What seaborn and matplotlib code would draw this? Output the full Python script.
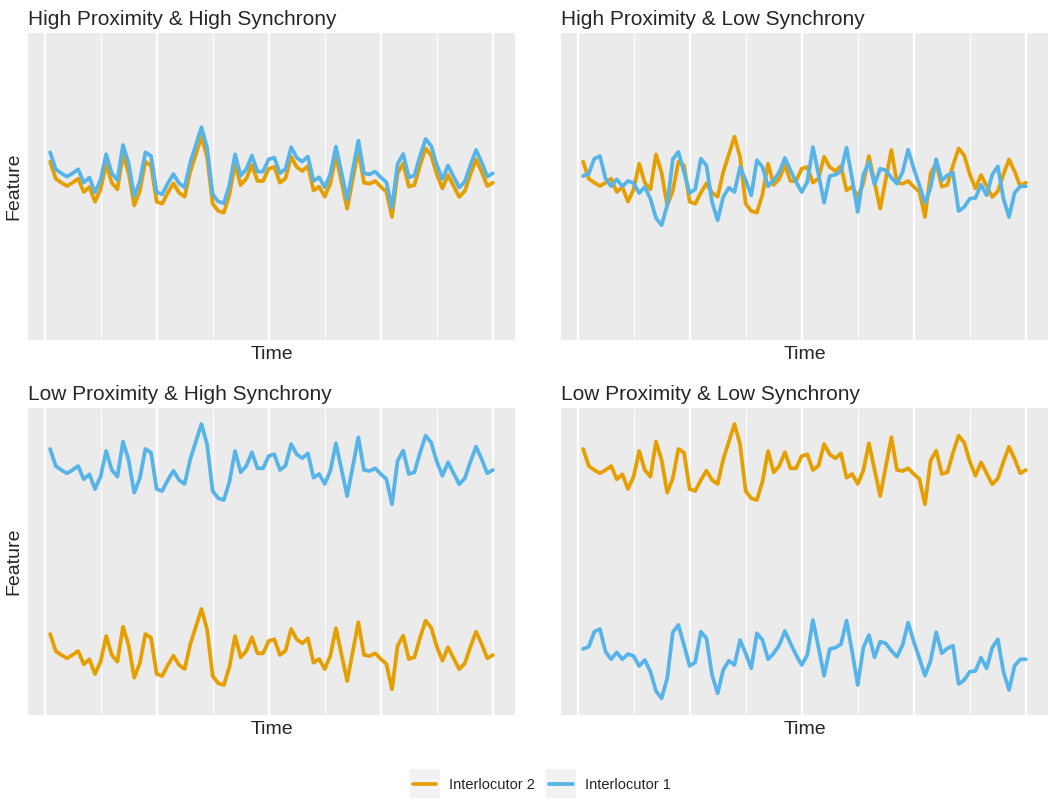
import pandas as pd
import matplotlib
matplotlib.use("Agg")
import matplotlib.pyplot as plt
from matplotlib.ticker import MultipleLocator
from matplotlib.lines import Line2D
from matplotlib.patches import Patch, Rectangle
from matplotlib.legend_handler import HandlerTuple, HandlerPatch
import seaborn as sns

# Time steps
time = list(range(1, 81))

# Base signal of the synchronous speaker
pattern_a = [6.10, 4.40, 4.00, 3.67, 4.00, 4.40, 3.07, 3.57, 2.10, 3.33,
             5.90, 4.00, 3.33, 6.83, 5.00, 1.73, 3.17, 6.10, 5.73, 2.10,
             1.90, 3.00, 3.93, 3.00, 2.60, 5.07, 6.83, 8.60, 6.57, 1.90,
             1.17, 1.00, 2.83, 5.90, 3.77, 4.40, 5.77, 4.17, 4.17, 5.40,
             5.57, 4.00, 4.43, 6.60, 5.57, 5.17, 5.67, 3.23, 3.60, 2.60,
             3.93, 6.67, 4.03, 1.40, 4.33, 7.27, 4.00, 3.90, 4.17, 3.60,
             3.10, 0.57, 4.93, 5.93, 3.60, 3.77, 5.73, 7.43, 6.73, 4.83,
             3.43, 4.77, 3.67, 2.57, 3.17, 4.83, 6.33, 5.10, 3.67, 4.00]

# Signal of the non-synchronous speaker
pattern_c = [6.10, 6.33, 7.83, 8.10, 5.83, 5.07, 5.77, 5.07, 5.60, 5.40,
             4.40, 5.00, 3.83, 1.90, 1.17, 3.17, 7.77, 8.50, 6.50, 4.40,
             4.77, 7.83, 7.17, 3.50, 1.67, 4.00, 4.93, 4.50, 7.00, 5.67,
             4.17, 7.67, 7.00, 5.07, 5.67, 6.50, 7.90, 6.67, 5.50, 4.50,
             5.50, 9.00, 6.27, 3.43, 6.10, 6.23, 6.57, 8.93, 5.83, 2.50,
             6.23, 7.50, 5.27, 6.83, 6.67, 5.93, 5.33, 6.50, 8.73, 6.83,
             5.17, 3.43, 4.93, 7.77, 5.67, 6.17, 6.43, 2.60, 3.00, 3.83,
             3.90, 5.23, 4.17, 6.23, 7.07, 3.83, 2.00, 4.43, 5.07, 5.07]

titles = ["High Proximity & High Synchrony", "High Proximity & Low Synchrony",
          "Low Proximity & High Synchrony", "Low Proximity & Low Synchrony"]

# level of each speaker in each panel
level_i2 = [11.73, 11.73, 2.0, 20.5]
level_i1 = [12.67, 10.3, 20.5, 0.5]
synchrony = ["high", "low", "high", "low"]

speakers = ["Interlocutor 2", "Interlocutor 1"]
palette = {"Interlocutor 2": "#E69F00", "Interlocutor 1": "#56B4E9"}

rows = []
for i, title in enumerate(titles):
    pat1 = pattern_a if synchrony[i] == "high" else pattern_c
    for t, va, v1 in zip(time, pattern_a, pat1):
        rows.append((title, t, va + level_i2[i], "Interlocutor 2"))
        rows.append((title, t, v1 + level_i1[i], "Interlocutor 1"))
df = pd.DataFrame(rows, columns=["Panel", "Time", "Feature", "Speaker"])

sns.set_theme(style="darkgrid")
plt.rcParams["font.family"] = ["Liberation Sans", "DejaVu Sans"]

fig = plt.figure(figsize=(10.5, 8), dpi=100)
W, H = 1050, 800
boxes = [(28, 33), (561, 33), (28, 408), (561, 408)]
pw, ph = 487, 307

for i, title in enumerate(titles):
    x0, y0 = boxes[i]
    ax = fig.add_axes([x0 / W, 1 - (y0 + ph) / H, pw / W, ph / H])
    ax.set_facecolor("#EBEBEB")
    sub = df[df["Panel"] == title]
    sns.lineplot(data=sub, x="Time", y="Feature", hue="Speaker",
                 hue_order=speakers, palette=palette, linewidth=2.7,
                 legend=False, ax=ax)
    ax.set_xlim(-2.95, 83.95)
    ax.set_ylim(0, 30.7)
    ax.xaxis.set_major_locator(MultipleLocator(20))
    ax.xaxis.set_minor_locator(MultipleLocator(10))
    ax.grid(False)
    ax.grid(True, which="major", axis="x", color="white", linewidth=1.6)
    ax.grid(True, which="minor", axis="x", color="white", linewidth=0.8)
    ax.set_yticks([])
    ax.tick_params(axis="x", which="both", length=0, labelbottom=False)
    for s in ax.spines.values():
        s.set_visible(False)
    ax.set_title(title, loc="left", fontsize=15, pad=6)
    ax.set_xlabel("Time", fontsize=14, labelpad=4)
    if i % 2 == 0:
        ax.set_ylabel("Feature", fontsize=14, labelpad=4)
    else:
        ax.set_ylabel("")


# grey square behind each legend line, centred on the line
def key_box(legend, orig_handle, xdescent, ydescent, width, height, fontsize):
    cy = (height - ydescent) / 2
    return Rectangle((-xdescent - 2.5, cy - 10.5), width + 5, 21)


handles = [(Patch(facecolor="#F2F2F2", edgecolor="none"),
            Line2D([], [], color=palette[s], linewidth=2.7)) for s in speakers]
fig.legend(handles, speakers, loc="center", bbox_to_anchor=(542 / W, 1 - 785 / H),
           ncol=2, frameon=False, fontsize=10.5, handlelength=1.6,
           handletextpad=0.85, columnspacing=1.0,
           handler_map={tuple: HandlerTuple(ndivide=1),
                        Patch: HandlerPatch(patch_func=key_box)})

fig.savefig("out.png", dpi=100)
